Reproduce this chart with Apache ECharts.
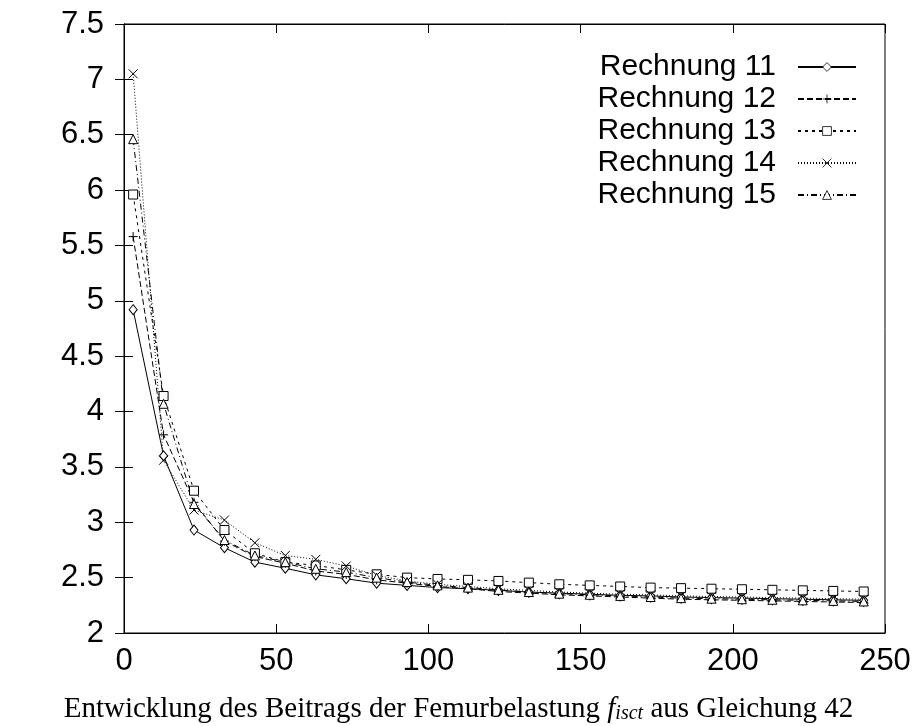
<!DOCTYPE html>
<html>
<head>
<meta charset="utf-8">
<script src="https://cdn.jsdelivr.net/npm/echarts@6/dist/echarts.min.js"></script>
<style>html,body{margin:0;padding:0;background:#fff;}#c{width:917px;height:726px;}</style>
</head>
<body>
<div id="c"></div>
<script>
var xValues = [3,13,23,33,43,53,63,73,83,93,103,113,123,133,143,153,163,173,183,193,203,213,223,233,243];
var r11 = [4.92,3.60,2.93,2.77,2.64,2.585,2.525,2.49,2.45,2.43,2.41,2.40,2.385,2.37,2.36,2.35,2.34,2.335,2.325,2.32,2.315,2.31,2.305,2.30,2.295];
var r12 = [5.58,3.79,3.18,2.83,2.69,2.63,2.56,2.53,2.48,2.45,2.42,2.40,2.375,2.36,2.345,2.335,2.325,2.315,2.305,2.30,2.295,2.29,2.285,2.28,2.275];
var r13 = [5.96,4.14,3.285,2.93,2.72,2.64,2.61,2.57,2.53,2.50,2.488,2.48,2.47,2.455,2.44,2.43,2.42,2.41,2.405,2.40,2.395,2.39,2.385,2.38,2.375];
var r14 = [7.05,3.56,3.11,3.02,2.815,2.70,2.665,2.605,2.52,2.47,2.44,2.42,2.40,2.385,2.37,2.36,2.35,2.345,2.335,2.33,2.325,2.32,2.315,2.31,2.305];
var r15 = [6.46,4.07,3.165,2.84,2.70,2.64,2.58,2.55,2.50,2.46,2.43,2.41,2.39,2.37,2.355,2.345,2.335,2.325,2.315,2.31,2.305,2.30,2.295,2.29,2.285];
var seriesNames = ['Rechnung 11','Rechnung 12','Rechnung 13','Rechnung 14','Rechnung 15'];
var captionMain = 'Entwicklung des Beitrags der Femurbelastung ';
var captionF = 'f';
var captionSub = 'isct';
var captionEnd = ' aus Gleichung 42';

function pairs(ys){ return xValues.map(function(x,i){ return [x, ys[i]]; }); }

var diamondPath = 'path://M5,0L10,6L5,12L0,6Z';
var plusPath = 'path://M5,0L5,10M0,5L10,5';
var rectPath = 'path://M0,0L10,0L10,10L0,10Z';
var crossPath = 'path://M0,0L10,10M10,0L0,10';
var trianglePath = 'path://M5,0L10,9L0,9Z';

var styles = [
  {data:r11, symbol:diamondPath, size:[8,10], dash:'solid'},
  {data:r12, symbol:plusPath, size:9, dash:[6,3]},
  {data:r13, symbol:rectPath, size:9, dash:[3,4]},
  {data:r14, symbol:crossPath, size:9, dash:[1,2]},
  {data:r15, symbol:trianglePath, size:9, dash:[6,3,1,3]}
];

var series = styles.map(function(s, i){
  return {
    name: seriesNames[i],
    type: 'line',
    data: pairs(s.data),
    symbol: s.symbol,
    symbolSize: s.size,
    showAllSymbol: true,
    animation: false,
    lineStyle: {color:'#000', width:1, type: s.dash},
    itemStyle: {color:'#fff', borderColor:'#000', borderWidth:1},
    emphasis: {disabled:true}
  };
});

var axisFont = {fontFamily:'Liberation Sans, Arial, sans-serif', fontSize:31, color:'#000'};
var serif = 'Liberation Serif, Times New Roman, serif';

var chart = echarts.init(document.getElementById('c'), null, {renderer:'canvas'});
chart.setOption({
  backgroundColor:'#fff',
  animation:false,
  grid:{left:124, top:24, right:32, bottom:93, show:true, borderColor:'#000', borderWidth:1, backgroundColor:'transparent'},
  legend:{
    data: seriesNames,
    orient:'vertical',
    right:55,
    top:47,
    align:'right',
    itemWidth:58,
    itemHeight:11,
    itemGap:2,
    selectedMode:false,
    itemStyle:{borderWidth:0.8},
    textStyle:{fontFamily:'Liberation Sans, Arial, sans-serif', fontSize:30, color:'#000', lineHeight:30, padding:[0,17,0,0]}
  },
  title:{
    text:'{a|' + captionMain + '}{i|' + captionF + '}{s|' + captionSub + '}{a|' + captionEnd + '}',
    left:'center',
    bottom:2,
    textStyle:{
      fontWeight:'normal',
      rich:{
        a:{fontFamily:serif, fontSize:29, fontWeight:'normal', color:'#000', verticalAlign:'bottom', lineHeight:34},
        i:{fontFamily:serif, fontSize:29, fontWeight:'normal', fontStyle:'italic', color:'#000', verticalAlign:'bottom', lineHeight:34},
        s:{fontFamily:serif, fontSize:20, fontWeight:'normal', fontStyle:'italic', color:'#000', verticalAlign:'bottom', lineHeight:26}
      }
    }
  },
  xAxis:[
    {type:'value', min:0, max:250, interval:50, position:'bottom',
     axisLine:{show:true, lineStyle:{color:'#000', width:1}},
     axisTick:{show:true, inside:true, length:9, lineStyle:{color:'#000'}},
     axisLabel:Object.assign({margin:13}, axisFont),
     splitLine:{show:false}},
    {type:'value', min:0, max:250, interval:50, position:'top',
     axisLine:{show:true, lineStyle:{color:'#000', width:1}},
     axisTick:{show:true, inside:true, length:9, lineStyle:{color:'#000'}},
     axisLabel:{show:false}, splitLine:{show:false}}
  ],
  yAxis:[
    {type:'value', min:2, max:7.5, interval:0.5, position:'left',
     axisLine:{show:true, lineStyle:{color:'#000', width:1}},
     axisTick:{show:true, inside:true, length:9, lineStyle:{color:'#000'}},
     axisLabel:Object.assign({margin:20, formatter:function(v){return String(Math.round(v*10)/10);}}, axisFont),
     splitLine:{show:false}},
    {type:'value', min:2, max:7.5, interval:0.5, position:'right',
     axisLine:{show:true, lineStyle:{color:'#000', width:1}},
     axisTick:{show:true, inside:true, length:9, lineStyle:{color:'#000'}},
     axisLabel:{show:false}, splitLine:{show:false}}
  ],
  series: series
});
</script>
</body>
</html>
